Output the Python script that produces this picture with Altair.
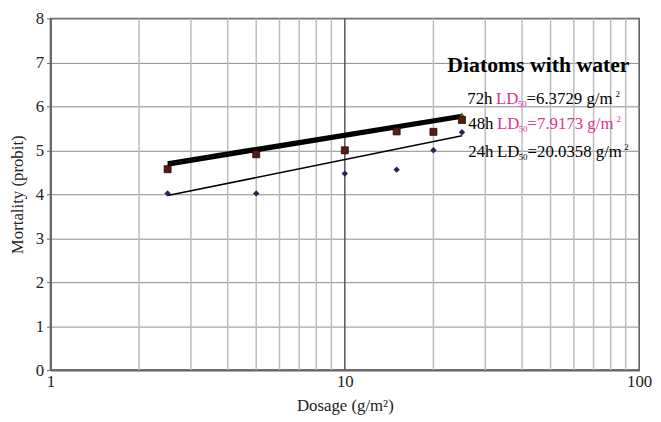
import altair as alt
import pandas as pd

# ---- data ----
doses = [2.5, 5, 10, 15, 20, 25]
mort_24h = [4.02, 4.02, 4.47, 4.56, 5.00, 5.41]
mort_48h = [4.57, 4.91, 5.00, 5.43, 5.42, 5.69]
mort_72h = [4.57, 4.91, 5.00, 5.43, 5.42, 5.80]

fit_x = [2.5, 25]
fit_72h = [4.72, 5.80]
fit_48h = [4.66, 5.75]
fit_24h = [3.97, 5.33]

minor_grid = [2, 3, 4, 5, 6, 7, 8, 9, 20, 30, 40, 50, 60, 70, 80, 90]
major_grid = [10]
x_ticks = [1, 10, 100]
y_ticks = [0, 1, 2, 3, 4, 5, 6, 7, 8]

W, H = 596, 356
FONT = "Liberation Serif"
PINK = "#dd3399"

pts = pd.DataFrame({
    "dose": doses * 3,
    "mort": mort_72h + mort_48h + mort_24h,
    "series": ["72h"] * 6 + ["48h"] * 6 + ["24h"] * 6,
})
fits = pd.DataFrame({
    "dose": fit_x * 3,
    "mort": fit_72h + fit_48h + fit_24h,
    "series": ["72h"] * 2 + ["48h"] * 2 + ["24h"] * 2,
})

xscale = alt.Scale(type="log", domain=[1, 100], nice=False)
yscale = alt.Scale(domain=[0, 8], nice=False)

x_axis = alt.Axis(values=x_ticks, format="d", grid=False, ticks=False,
                  labelFlush=False, labelOverlap=False,
                  domainColor="#666", domainWidth=2, labelFont=FONT,
                  labelFontSize=17, labelColor="#222", labelPadding=4,
                  title="Dosage (g/m²)", titleFont=FONT, titleFontSize=17,
                  titleFontWeight="normal", titleColor="#222", titlePadding=8)
y_axis = alt.Axis(values=y_ticks, grid=True, gridColor="#8a8a8a", gridWidth=1,
                  domainColor="#666", domainWidth=2, tickColor="#666",
                  tickSize=4, labelFont=FONT, labelFontSize=17,
                  labelColor="#222", labelPadding=3, labelFlush=False,
                  title="Mortality (probit)", titleFont=FONT,
                  titleFontSize=17, titleFontWeight="normal",
                  titleColor="#222", titlePadding=9)

X = alt.X("dose:Q", scale=xscale, axis=x_axis)
Y = alt.Y("mort:Q", scale=yscale, axis=y_axis)

minor = alt.Chart(pd.DataFrame({"dose": minor_grid})).mark_rule(
    color="#bcbcbc", strokeWidth=1.5
).encode(x=X, y=alt.value(0), y2=alt.value(H))
major = alt.Chart(pd.DataFrame({"dose": major_grid})).mark_rule(
    color="#555", strokeWidth=1.5
).encode(x=X, y=alt.value(0), y2=alt.value(H))

def fit_line(s, w):
    return alt.Chart(fits[fits.series == s]).mark_line(
        color="black", strokeWidth=w
    ).encode(x=X, y=Y)

base_pts = alt.Chart(pts)
p72 = base_pts.transform_filter(alt.datum.series == "72h").mark_point(
    shape="triangle-up", filled=True, color="#4d6b2a", size=45, opacity=1
).encode(x=X, y=Y)
p48 = base_pts.transform_filter(alt.datum.series == "48h").mark_point(
    shape="square", filled=True, color="#5a1c12", size=50, opacity=1,
    stroke="#1a0a05", strokeWidth=0.8
).encode(x=X, y=Y)
p24 = base_pts.transform_filter(alt.datum.series == "24h").mark_point(
    shape="diamond", filled=True, color="#1b2a4e", size=42, opacity=1
).encode(x=X, y=Y)

one = pd.DataFrame({"a": [0]})

def txt(s, x, y, color="black", size=17, weight="normal", align="left",
        baseline="alphabetic"):
    return alt.Chart(one).mark_text(
        text=s, font=FONT, fontSize=size, fontWeight=weight, color=color,
        align=align, baseline=baseline
    ).encode(x=alt.value(x), y=alt.value(y))

# plot origin on the page is (51, 16)
texts = [
    txt("Diatoms with water", 494, 47, size=22, weight="bold",
        align="center", baseline="middle"),
    # 72h
    txt("72h", 422, 87), txt("LD", 451, 87, PINK), txt("50", 473, 90, PINK, 9),
    txt("=6.3729 g/m", 482, 87), txt("2", 572, 80, size=9),
    # 48h
    txt("48h", 423, 112), txt("LD", 452, 112, PINK), txt("50", 474, 115, PINK, 9),
    txt("=7.9173 g/m", 483, 112, PINK), txt("2", 573, 105, PINK, 9),
    # 24h
    txt("24h", 423, 140), txt("LD", 452, 140), txt("50", 474, 143, size=9),
    txt("=20.0358 g/m", 483, 140), txt("2", 581, 133, size=9),
]

chart = alt.layer(
    minor, major,
    fit_line("72h", 3), fit_line("48h", 3), fit_line("24h", 1.5),
    p72, p48, p24, *texts
).properties(
    width=W, height=H,
    autosize=alt.AutoSizeParams(type="none"),
    padding={"left": 43, "top": 8, "right": 14, "bottom": 50},
).configure_view(stroke="#555", strokeWidth=1.5)

chart.save("out.html", embed_options={"renderer": "svg", "actions": False})
